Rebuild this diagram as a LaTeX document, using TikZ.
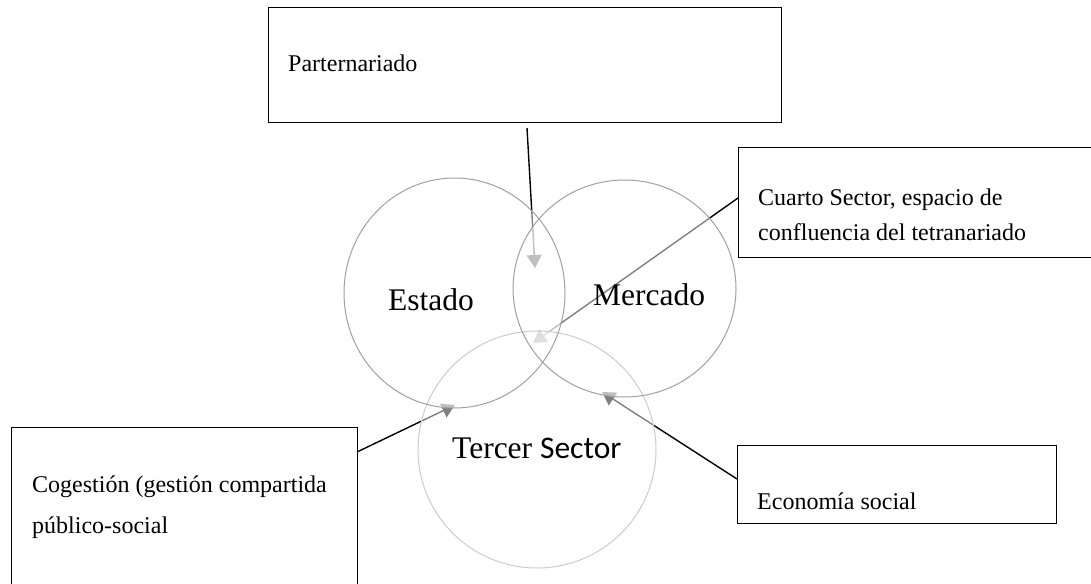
\documentclass[tikz,border=0pt]{standalone}
\usepackage{fontspec}
\setmainfont{Liberation Serif}
\newfontfamily\calibfont{Carlito}
\usetikzlibrary{arrows.meta,shapes.geometric}
\definecolor{ringA}{HTML}{A0A0A0}
\definecolor{ringB}{HTML}{CCCCCC}
\begin{document}
\begin{tikzpicture}[x=1pt,y=-1pt,
  box/.style={draw=black, line width=1pt, rectangle, inner sep=0pt, anchor=north west},
  small/.style={anchor=base west, inner sep=0pt, font=\fontsize{24}{35}\selectfont},
  big/.style={anchor=base west, inner sep=0pt, font=\fontsize{31.5}{38}\selectfont},
  conn/.style={line width=1.4pt, draw=black, -{Triangle[width=15pt,length=13pt]}},
  veil/.style={ellipse, inner sep=0pt, fill=white, fill opacity=0.5},
  ring/.style={line width=1pt},
]
\useasboundingbox (0,0) rectangle (1091,583);
\clip (0,0) rectangle (1091,583);

% boxes
\node[box, minimum width=513pt, minimum height=115pt] (parter) at (268,7) {};
\node[box, minimum width=400pt, minimum height=110pt] (cuarto) at (738,147) {};
\node[box, minimum width=319pt, minimum height=78pt] (eco) at (737,445) {};
\node[box, minimum width=346pt, minimum height=200pt] (cog) at (11,427) {};

% connectors
\coordinate (pS) at (527,128);  \coordinate (pE) at (535,268);
\coordinate (cS) at (738,198);  \coordinate (cE) at (533,343);
\coordinate (gS) at (357,452);  \coordinate (gE) at (455,405);
\coordinate (eS) at (737,479);  \coordinate (eE) at (602,392);
\draw[conn] (pS) -- (pE);
\draw[conn] (cS) -- (cE);
\draw[conn] (gS) -- (gE);
\draw[conn] (eS) -- (eE);

% translucent circles
\node[veil, minimum width=221pt, minimum height=230pt] (estado) at (454.5,293) {};
\node[veil, minimum width=223pt, minimum height=217pt] (mercado) at (624.5,288.5) {};
\node[veil, minimum width=238pt, minimum height=237pt] (tercer) at (537,449.5) {};
\draw[ring, ringB] (tercer.center) ellipse [x radius=119, y radius=118.5];
\draw[ring, ringA] (estado.center) ellipse [x radius=110.5, y radius=115];
\draw[ring, ringA] (mercado.center) ellipse [x radius=111.5, y radius=108.5];

% labels
\node[big] (lestado) at (388,310) {Estado};
\node[big] (lmercado) at (593,305) {Mercado};
\node[big] (ltercer) at (452,458) {Tercer {\calibfont Sector}};

\node[small] (tparter) at (288,72) {Parternariado};
\node[small] (tcuarto1) at (758,205) {Cuarto Sector, espacio de};
\node[small] (tcuarto2) at (758,240) {confluencia del tetranariado};
\node[small] (teco) at (757,509) {Economía social};
\node[small] (tcog1) at (32,492) {Cogestión (gestión compartida};
\node[small] (tcog2) at (32,533) {público-social};
\end{tikzpicture}
\end{document}
